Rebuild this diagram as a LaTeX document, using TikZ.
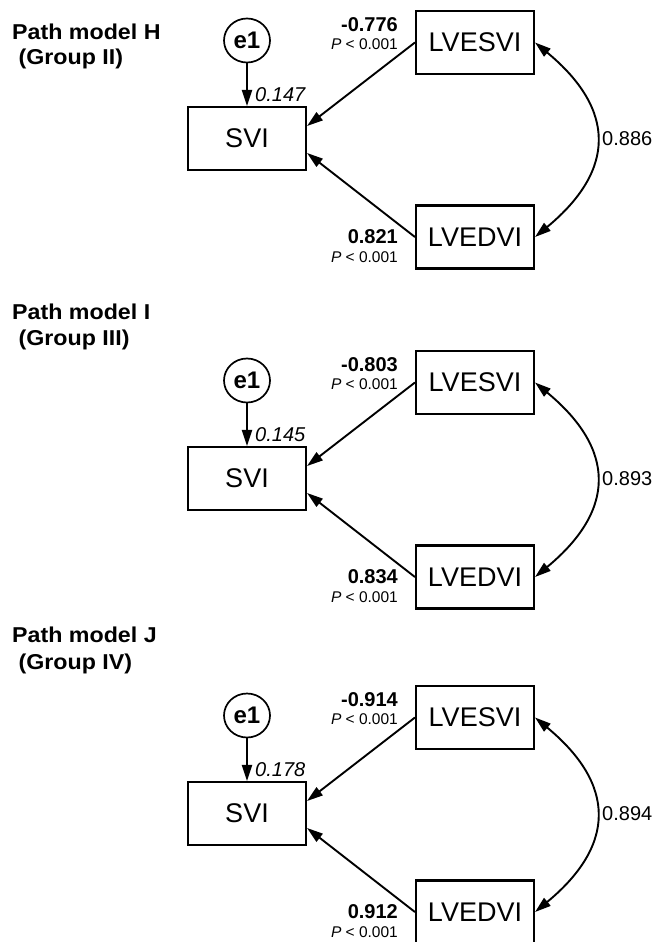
\documentclass[tikz,border=0pt]{standalone}
\usepackage{fontspec}
\setmainfont{Liberation Sans}
\newfontfamily\titlefont[FakeStretch=1.08]{Liberation Sans}
\usetikzlibrary{arrows.meta,shapes.geometric,calc}
\newcommand\boxfont{\fontsize{27}{30}\selectfont}
\newcommand\efont{\fontsize{24}{28}\selectfont\bfseries}
\newcommand\coeffont{\fontsize{20}{24}\selectfont\bfseries}
\newcommand\numfont{\fontsize{20}{24}\selectfont}
\newcommand\pfont{\fontsize{15.5}{18}\selectfont}
\newcommand\ttlfont{\titlefont\fontsize{21.5}{26}\selectfont\bfseries}
\tikzset{
  obs/.style={draw, line width=2.1pt, minimum width=118pt, minimum height=63pt, inner sep=0pt, font=\boxfont},
  latent/.style={ellipse, draw, line width=1.7pt, minimum width=46pt, minimum height=44pt, inner sep=0pt, font=\efont},
  pathar/.style={line width=1.9pt, -{Triangle[length=16pt,width=10pt]}},
  covar/.style={line width=1.9pt, {Triangle[length=16pt,width=10pt]}-{Triangle[length=16pt,width=10pt]}},
  coef/.style={inner sep=0pt, font=\coeffont},
  numlbl/.style={inner sep=0pt, font=\numfont},
  pval/.style={inner sep=0pt, font=\pfont},
  ttl/.style={inner sep=0pt, anchor=base west, font=\ttlfont}
}
\newcommand\pathpanel[6]{%
\begin{scope}[yshift=-#2pt]
  \node[latent] (e1#1) at (247,40.5) {e1};
  \node[obs] (SVI#1) at (247,138.5) {SVI};
  \node[obs] (ES#1) at (475,42.5) {LVESVI};
  \node[obs] (ED#1) at (475,237) {LVEDVI};
  \draw[pathar] (e1#1.south) -- (SVI#1.north);
  \draw[pathar] (ES#1.west) -- ([yshift=12.5pt]SVI#1.east);
  \draw[pathar] (ED#1.west) -- ([yshift=-14.5pt]SVI#1.east);
  \draw[covar] (ES#1.east) .. controls ($(ES#1.east)+(81,67)$) and ($(ED#1.east)+(81,-67)$) .. (ED#1.east);
  \node[numlbl, anchor=west] (r#1) at (255,95) {\itshape #3};
  \node[coef, anchor=east] (ces#1) at (398,25) {#4};
  \node[pval, anchor=east] (pes#1) at (398,44) {\textit{P} < 0.001};
  \node[coef, anchor=east] (ced#1) at (398,237) {#5};
  \node[pval, anchor=east] (ped#1) at (398,257) {\textit{P} < 0.001};
  \node[numlbl, anchor=west] (cov#1) at (602,138.5) {#6};
\end{scope}}
\begin{document}
\begin{tikzpicture}[x=1pt, y=-1pt]
  \fill[white] (0,0) rectangle (655,942);
  \useasboundingbox (0,0) rectangle (655,942);
  \node[ttl] (tH1) at (12,40) {Path model H};
  \node[ttl] (tH2) at (12,64) {\ (Group II)};
  \node[ttl] (tI1) at (12,319) {Path model I};
  \node[ttl] (tI2) at (12,345) {\ (Group III)};
  \node[ttl] (tJ1) at (12,642) {Path model J};
  \node[ttl] (tJ2) at (12,669) {\ (Group IV)};
  \pathpanel{H}{0}{0.147}{-0.776}{0.821}{0.886}
  \pathpanel{I}{340}{0.145}{-0.803}{0.834}{0.893}
  \pathpanel{J}{675}{0.178}{-0.914}{0.912}{0.894}
\end{tikzpicture}
\end{document}
